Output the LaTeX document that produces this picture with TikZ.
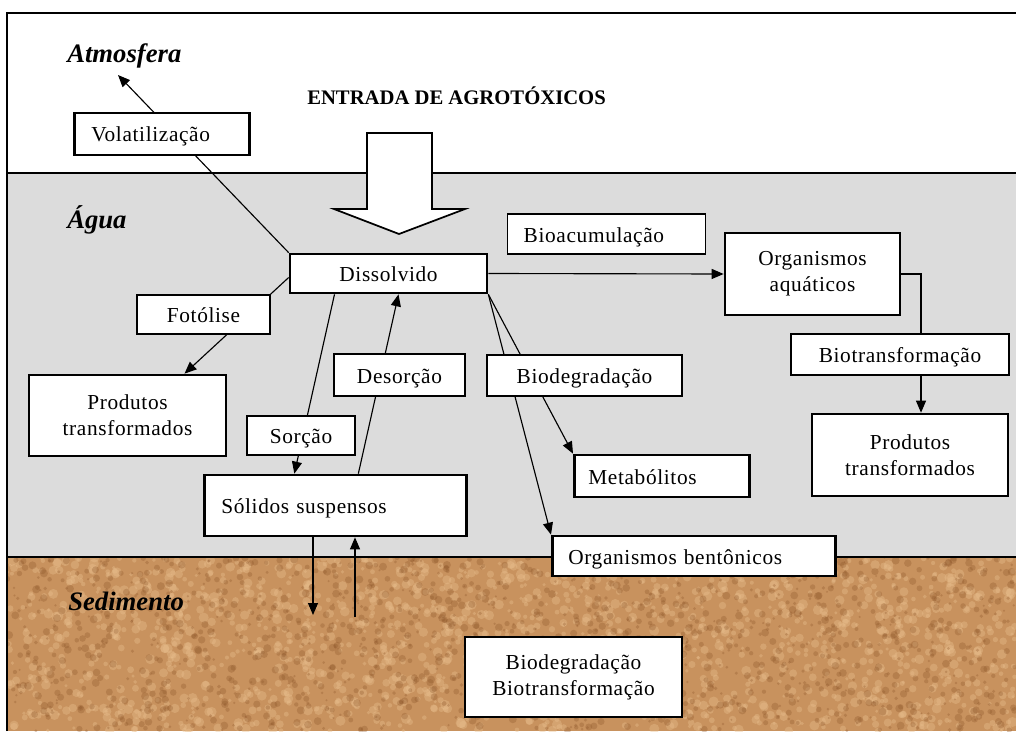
\documentclass[tikz,border=0pt]{standalone}
\usepackage{fontspec}
\setmainfont{Liberation Serif}
\newfontfamily\boxfont[LetterSpace=3]{Liberation Serif}
\usetikzlibrary{arrows.meta,calc}
\pgfdeclarelayer{ground}
\pgfdeclarelayer{links}
\pgfsetlayers{ground,links,main}

\definecolor{water}{RGB}{220,220,220}
\definecolor{sedbase}{RGB}{200,146,94}
\definecolor{seddark}{RGB}{140,84,40}
\definecolor{sedlight}{RGB}{232,190,140}

\begin{document}
\begin{tikzpicture}[x=0.75pt,y=-0.75pt,
  box/.style={draw, fill=white, inner sep=0pt, font=\boxfont\fontsize{16}{19.5}\selectfont},
  heavy/.style={line width=2pt},
  light/.style={line width=1.1pt},
  wh/.style 2 args={minimum width=#1*0.75pt, minimum height=#2*0.75pt},
  oneline/.style={text height=15pt, text depth=3pt},
  lbox/.style n args={3}{text width=#1, inner xsep=#2, minimum height=#3, align=left, anchor=west},
  link/.style={line width=0.85pt, -{Triangle[length=9pt,width=7.5pt]}},
  zone/.style={font=\fontsize{20}{24}\selectfont\bfseries\itshape, anchor=base west, inner sep=0pt}
]
\useasboundingbox (0,0) rectangle (1016,731);

% compartments: air, water, sediment
\begin{pgfonlayer}{ground}
  \fill[white] (0,0) rectangle (1016,731);
  \fill[water] (7,173) rectangle (1016,557);
  \begin{scope}
    \clip (7,557) rectangle (1016,731);
    \fill[sedbase] (7,557) rectangle (1016,731);
    \pgfmathsetseed{2024}
    \foreach \i in {1,...,1700}{
      \pgfmathsetmacro\xx{7+1009*rnd}
      \pgfmathsetmacro\yy{557+174*rnd}
      \pgfmathsetmacro\rr{1.2+2.6*rnd}
      \fill[sedlight,opacity=0.4] (\xx,\yy) circle[radius=\rr pt];
    }
    \foreach \i in {1,...,1500}{
      \pgfmathsetmacro\xx{7+1009*rnd}
      \pgfmathsetmacro\yy{557+174*rnd}
      \pgfmathsetmacro\rr{0.8+2.2*rnd}
      \fill[seddark,opacity=0.3] (\xx,\yy) circle[radius=\rr pt];
    }
  \end{scope}
  \draw[line width=1.5pt] (7,731) -- (7,13) -- (1016,13);
  \draw[line width=1.2pt] (7,173) -- (1016,173);
  \draw[line width=1.2pt] (7,557) -- (1016,557);
\end{pgfonlayer}

% compartment names and title
\node[zone] (atmo) at (67,63) {Atmosfera};
\node[zone] (agua) at (67,228) {Água};
\node[zone] (sedi) at (68,610) {Sedimento};
\node[font=\fontsize{15.5}{18}\selectfont\bfseries, anchor=base west, inner sep=0pt] (entrada) at (307,105) {ENTRADA DE AGROTÓXICOS};

% input arrow
\draw[fill=white, line width=1.3pt, line join=miter]
  (367,133) -- (432,133) -- (432,209) -- (465,209) -- (399,234) -- (334,209) -- (367,209) -- cycle;

% boxes
\node[box,heavy,lbox={105.75pt}{12.75pt}{31.5pt},oneline] (vol) at (73,134) {Volatilização};
\node[box,heavy,wh={197}{39},oneline] (dis) at (388.5,273.5) {Dissolvido};
\node[box,light,lbox={124.5pt}{12pt}{30pt},oneline] (bioac) at (507,234) {Bioacumulação};
\node[box,heavy,wh={175}{82},align=center] (orgaq) at (812.5,274) {Organismos\\aquáticos};
\node[box,light,wh={218}{41},oneline] (biotr) at (900,354.5) {Biotransformação};
\node[box,heavy,wh={196}{82},align=center] (prodR) at (910,455) {Produtos\\transformados};
\node[box,light,wh={133}{39},oneline] (fot) at (203.5,314.5) {Fotólise};
\node[box,heavy,wh={197}{81},align=center] (prodL) at (127.5,415.5) {Produtos\\transformados};
\node[box,light,wh={108}{39},oneline] (sor) at (301,435.5) {Sorção};
\node[box,light,wh={131}{42},oneline] (des) at (399.5,375) {Desorção};
\node[box,heavy,lbox={171pt}{12.75pt}{45.75pt},oneline] (sol) at (203,505.5) {Sólidos suspensos};
\node[box,light,wh={195}{41},oneline] (biodeg) at (584.5,375.5) {Biodegradação};
\node[box,heavy,lbox={110.25pt}{10.5pt}{31.5pt},oneline] (meta) at (573,476) {Metabólitos};
\node[box,heavy,lbox={188.25pt}{12pt}{30pt},oneline] (bent) at (551,556) {Organismos bentônicos};
\node[box,heavy,wh={217}{80},align=center] (sedbio) at (573.5,677) {Biodegradação\\Biotransformação};

% free ends of connectors
\coordinate (sky) at (118,75);
\coordinate (bend) at (921,274);
\coordinate (sink) at (313,615);
\coordinate (rise) at (355,617);

% connectors, drawn beneath the boxes
\begin{pgfonlayer}{links}
  \draw[link] (dis.north west) -- (sky);
  \draw[link] (dis.east) -- (orgaq.west);
  \draw[link] (orgaq.east) -- (bend) -- (bend |- prodR.north);
  \draw[link] ($(dis.west)+(0,4)$) -- ($(prodL.north)+(57,0)$);
  \draw[link] ($(dis.south)+(-54,0)$) -- ($(sol.north)+(-41,0)$);
  \draw[link] ($(sol.north)+(23,0)$) -- ($(dis.south)+(10,0)$);
  \draw[link] (dis.south east) -- (meta.north west);
  \draw[link] (dis.south east) -- (bent.north west);
  \draw[link] (sol.south -| sink) -- (sink);
  \draw[link] (rise) -- (sol.south -| rise);
\end{pgfonlayer}
\end{tikzpicture}
\end{document}
